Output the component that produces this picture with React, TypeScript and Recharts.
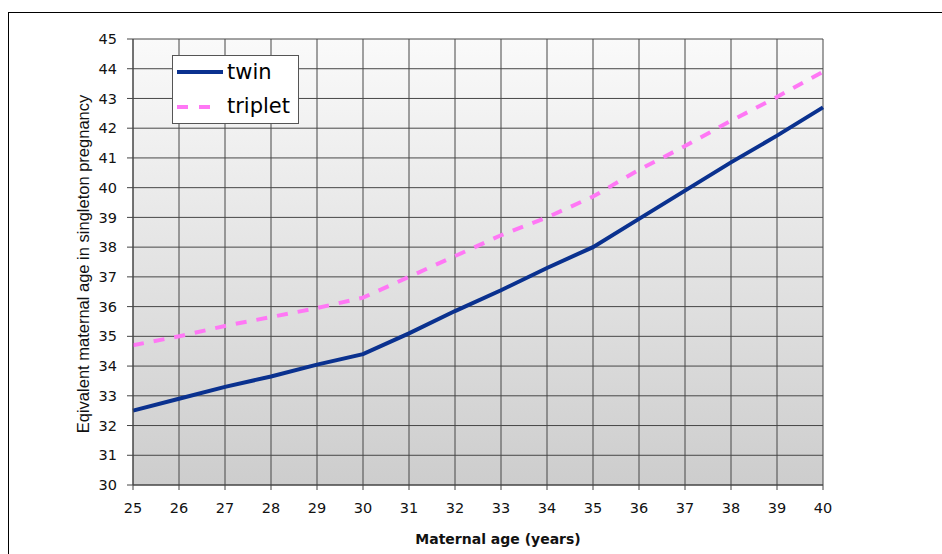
import { LineChart, Line, XAxis, YAxis, CartesianGrid, Legend } from "recharts";

// maternal age at the start of a multiple pregnancy
const ages = [25, 26, 27, 28, 29, 30, 31, 32, 33, 34, 35, 36, 37, 38, 39, 40];
// equivalent age in a singleton pregnancy
const twin = [32.5, 32.9, 33.3, 33.65, 34.05, 34.4, 35.1, 35.85, 36.55, 37.3, 38.0, 38.95, 39.9, 40.85, 41.75, 42.7];
const triplet = [34.7, 35.0, 35.35, 35.65, 35.95, 36.3, 37.0, 37.7, 38.4, 39.0, 39.7, 40.6, 41.4, 42.25, 43.05, 43.9];
const yTicks = [30, 31, 32, 33, 34, 35, 36, 37, 38, 39, 40, 41, 42, 43, 44, 45];

const TWIN_COLOR = "#0a318f";
const TRIPLET_COLOR = "#ff77f5";

const data = ages.map((age, i) => ({ age, twin: twin[i], triplet: triplet[i] }));

const tickStyle = { fill: "#111", fontSize: 14.5, fontFamily: "DejaVu Sans" };

function LegendBox() {
  return (
    <svg width={127} height={69} style={{ display: "block" }}>
      <rect x={0.5} y={0.5} width={126} height={68} fill="#fff" stroke="#555" />
      <line x1={5} x2={51} y1={17} y2={17} stroke={TWIN_COLOR} strokeWidth={4} />
      <text x={55} y={17} dominantBaseline="central" fontSize={21} fontFamily="DejaVu Sans" fill="#000">twin</text>
      <line x1={5} x2={42} y1={52} y2={52} stroke={TRIPLET_COLOR} strokeWidth={4} strokeDasharray="11 11" />
      <text x={55} y={51} dominantBaseline="central" fontSize={21} fontFamily="DejaVu Sans" fill="#000">triplet</text>
    </svg>
  );
}

export default function App() {
  return (
    <div style={{ position: "fixed", left: 0, top: 0, width: 942, height: 554, overflow: "hidden", background: "#fff" }}>
      <div style={{ position: "absolute", left: 8, top: 12, width: 1000, height: 700, border: "1px solid #000", boxSizing: "border-box" }} />
      <div style={{ position: "absolute", left: 0, top: 0 }}>
        <LineChart width={942} height={554} data={data} margin={{ top: 39, right: 119, bottom: 4, left: 0 }}>
          <defs>
            <linearGradient id="plotBg" x1="0" y1="0" x2="0" y2="1">
              <stop offset="0" stopColor="#fafafa" />
              <stop offset="1" stopColor="#cdcdcd" />
            </linearGradient>
          </defs>
          <CartesianGrid stroke="#474747" fill="url(#plotBg)" fillOpacity={1} />
          <XAxis
            dataKey="age"
            type="number"
            domain={[25, 40]}
            ticks={ages}
            interval={0}
            height={65}
            tickSize={5}
            tickMargin={13}
            stroke="#444"
            tick={tickStyle}
            label={{
              value: "Maternal age (years)",
              position: "insideBottom",
              offset: 6,
              dx: 20,
              style: { fill: "#111", fontSize: 14, fontWeight: 600, fontFamily: "DejaVu Sans" },
            }}
          />
          <YAxis
            type="number"
            domain={[30, 45]}
            ticks={yTicks}
            interval={0}
            width={133}
            tickSize={6}
            tickMargin={10}
            stroke="#444"
            tick={tickStyle}
            label={{
              value: "Eqivalent maternal age in singleton pregnancy",
              angle: -90,
              position: "insideLeft",
              offset: 83,
              dy: 2,
              style: { textAnchor: "middle", fill: "#111", fontSize: 16.5, fontFamily: "Liberation Sans" },
            }}
          />
          {/* centred/middle keeps the legend from reserving chart space; wrapperStyle places it over the grid */}
          <Legend
            verticalAlign="middle"
            align="center"
            layout="vertical"
            wrapperStyle={{ left: 172, top: 55, width: 127, height: 69 }}
            content={() => <LegendBox />}
          />
          <Line type="linear" dataKey="twin" stroke={TWIN_COLOR} strokeWidth={4} dot={false} isAnimationActive={false} />
          <Line
            type="linear"
            dataKey="triplet"
            stroke={TRIPLET_COLOR}
            strokeWidth={4}
            strokeDasharray="11 10"
            dot={false}
            isAnimationActive={false}
          />
        </LineChart>
      </div>
    </div>
  );
}
